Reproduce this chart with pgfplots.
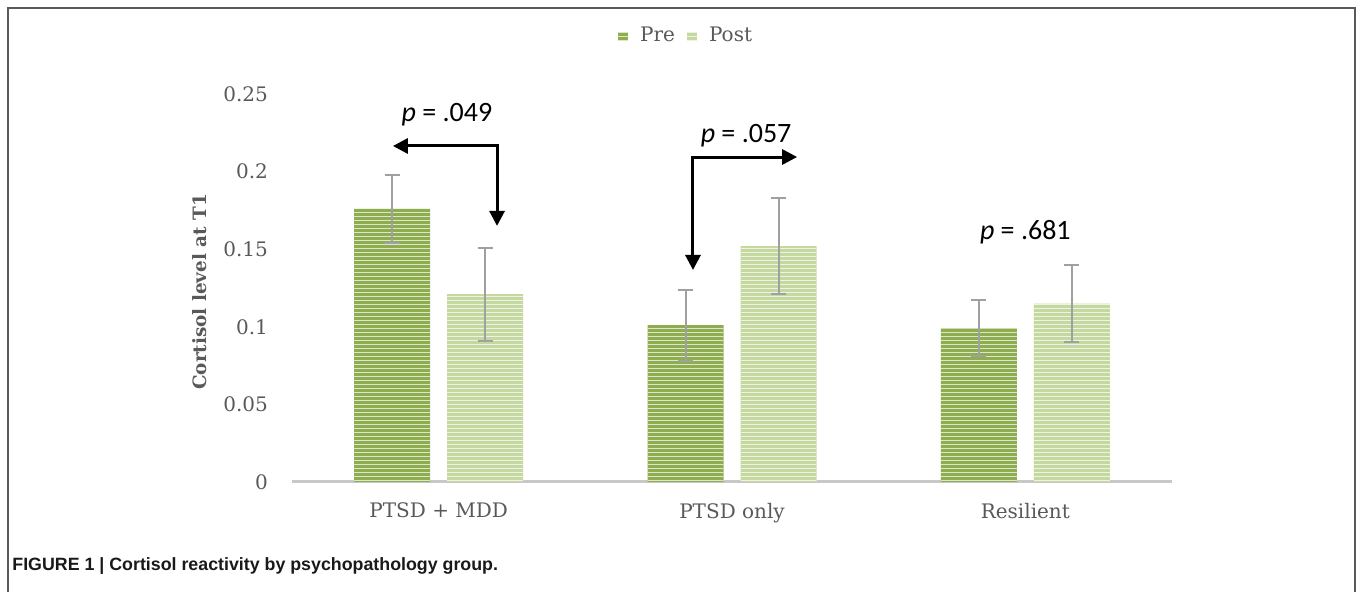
\documentclass[border=0pt]{standalone}
\usepackage{pgfplots}
\usepackage{pgfplotstable}
\pgfplotsset{compat=1.18}
\usetikzlibrary{patterns.meta,arrows.meta}
\usepackage{fontspec}
\setmainfont{DejaVu Serif}
\newfontfamily\calib{Carlito}
\newfontfamily\capfont{Liberation Sans}

\definecolor{pregreen}{HTML}{8DAD4E}
\definecolor{postgreen}{HTML}{C4D8A0}
\definecolor{txtgray}{HTML}{595959}
\definecolor{errgray}{HTML}{A0A0A0}
\definecolor{basegray}{HTML}{C8C8C8}

% group, mean and error for Pre and Post
\pgfplotstableread{
x pre preerr post posterr
0 0.176 0.022 0.121 0.030
1 0.101 0.023 0.152 0.031
2 0.099 0.018 0.115 0.025
}\cortisol

\begin{document}
\begin{tikzpicture}
\begin{axis}[
  at={(0,0)}, anchor=south west,
  scale only axis,
  width=440pt, height=194pt,
  ybar=8.5pt, bar width=38pt,
  xmin=-0.5, xmax=2.5, ymin=0, ymax=0.25,
  enlargelimits=false,
  xtick={0,1,2},
  xticklabels={PTSD + MDD, PTSD only, Resilient},
  ytick={0,0.05,0.1,0.15,0.2,0.25},
  yticklabels={0,0.05,0.1,0.15,0.2,0.25},
  major tick length=0pt,
  axis x line*=bottom, axis y line*=left,
  y axis line style={draw=none},
  x axis line style={-, draw=basegray, line width=1.5pt},
  tick label style={font=\fontsize{10}{12}\selectfont, text=txtgray},
  xticklabel style={yshift=-7pt},
  yticklabel style={xshift=-8.5pt},
  ylabel={Cortisol level at T1},
  every axis y label/.style={at={(axis description cs:-0.1045,0.49)}, rotate=90, anchor=center,
    font=\bfseries\fontsize{9.2}{11}\selectfont, text=txtgray},
  legend style={at={(axis description cs:0.449,1.149)}, anchor=center, draw=none,
    font=\fontsize{10}{12}\selectfont, text=txtgray, column sep=4pt},
  legend columns=2,
  legend image code/.code={\fill[#1] (0pt,-2.2pt) rectangle (5pt,2.2pt);},
  error bars/y dir=both, error bars/y explicit,
  error bars/error bar style={errgray, line width=1pt},
  error bars/error mark options={rotate=90, errgray, mark size=3.75pt, line width=1pt},
]
\addplot[fill=pregreen, draw=none,
  postaction={pattern={Lines[angle=0,distance=2pt,line width=0.7pt]}, pattern color=pregreen!30!white}]
  table[x=x, y=pre, y error=preerr] {\cortisol};
\addplot[fill=postgreen, draw=none,
  postaction={pattern={Lines[angle=0,distance=2pt,line width=0.7pt]}, pattern color=postgreen!30!white}]
  table[x=x, y=post, y error=posterr] {\cortisol};
\legend{Pre, Post}

\draw[{Triangle[length=7.5pt,width=7.5pt]}-{Triangle[length=7.5pt,width=7.5pt]}, line width=1.5pt]
  (axis cs:-0.156,0.2165) -- (axis cs:0.199,0.2165) -- (axis cs:0.199,0.165);
\draw[{Triangle[length=7.5pt,width=7.5pt]}-{Triangle[length=7.5pt,width=7.5pt]}, line width=1.5pt]
  (axis cs:0.867,0.1366) -- (axis cs:0.867,0.2094) -- (axis cs:1.222,0.2094);
\node[font=\calib\fontsize{14}{16}\selectfont] at (axis cs:0.028,0.237) {\textit{p} = .049};
\node[font=\calib\fontsize{14}{16}\selectfont] at (axis cs:1.048,0.223) {\textit{p} = .057};
\node[font=\calib\fontsize{14}{16}\selectfont] at (axis cs:2.0,0.161) {\textit{p} = .681};
\end{axis}
\path (-146pt,241pt) rectangle (533pt,-55pt);
\draw[black!65, line width=0.8pt] (-142pt,-55pt) -- (-142pt,237pt) -- (531.5pt,237pt) -- (531.5pt,-55pt);
\node[anchor=west, font=\capfont\bfseries\fontsize{8.9}{10}\selectfont, text=black!90, inner sep=0pt]
  at (-140pt,-42pt) {FIGURE 1 | Cortisol reactivity by psychopathology group.};
\end{tikzpicture}
\end{document}
